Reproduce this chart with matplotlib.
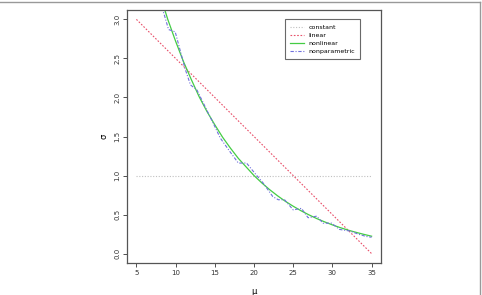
import matplotlib
matplotlib.use("Agg")
import matplotlib.pyplot as plt
from matplotlib.lines import Line2D

# values
mu_const = [5, 35]
sd_const = [1.0, 1.0]

mu_lin = [5, 35]
sd_lin = [3.0, 0.0]

mu_nl = [8.0, 9, 10, 11, 12, 13, 14, 15, 16, 17, 18, 19, 20, 21, 22, 23, 24, 25,
         26, 27, 28, 29, 30, 31, 32, 33, 34, 35]
sd_nl = [3.32, 3.00, 2.72, 2.46, 2.23, 2.01, 1.82, 1.65, 1.49, 1.35, 1.22, 1.11,
         1.00, 0.905, 0.819, 0.741, 0.670, 0.607, 0.549, 0.497, 0.449, 0.407,
         0.368, 0.333, 0.301, 0.273, 0.247, 0.223]

mu_np = [8.0, 9.1, 9.95, 11.2, 11.9, 12.7, 14.8, 15.7, 16.9, 18.0, 19.05, 20.1,
         21.2, 22.4, 23.1, 23.9, 25.0, 26.05, 26.9, 28.0, 28.8, 29.9, 30.9, 32.2,
         33.3, 34.3, 35]
sd_np = [3.25, 2.87, 2.84, 2.37, 2.16, 2.10, 1.67, 1.48, 1.31, 1.16, 1.16, 1.03,
         0.90, 0.73, 0.69, 0.69, 0.56, 0.58, 0.46, 0.48, 0.39, 0.39, 0.31, 0.29,
         0.25, 0.22, 0.21]

labels = ["constant", "linear", "nonlinear", "nonparametric"]
c_const = "#c0c0c0"
c_lin = "#e8506a"
c_nl = "#44cc44"
c_np = "#7070dd"

fig = plt.figure(figsize=(4.82, 2.95), dpi=100)
ax = fig.add_axes([127 / 482, 1 - 263 / 295, 254 / 482, 253 / 295])

ax.plot(mu_const, sd_const, color=c_const, lw=0.8, ls=(0, (1, 1.5)))
ax.plot(mu_lin, sd_lin, color=c_lin, lw=0.8, ls=(0, (1.5, 1.5)))
ax.plot(mu_nl, sd_nl, color=c_nl, lw=0.9, ls="-")
ax.plot(mu_np, sd_np, color=c_np, lw=0.8, ls=(0, (3, 1.5, 1, 1.5)))

ax.set_xlim(3.8, 36.2)
ax.set_ylim(-0.12, 3.12)
ax.set_xticks([5, 10, 15, 20, 25, 30, 35])
ax.set_yticks([0.0, 0.5, 1.0, 1.5, 2.0, 2.5, 3.0])
ax.set_yticklabels(["0.0", "0.5", "1.0", "1.5", "2.0", "2.5", "3.0"], rotation=90, va="center")
ax.tick_params(labelsize=5, length=3, width=0.6, colors="#333333", pad=2)
for s in ax.spines.values():
    s.set_linewidth(0.9)
    s.set_color("#555555")

ax.set_xlabel("μ", fontsize=6, labelpad=8)
ax.set_ylabel("σ", fontsize=6, labelpad=4)

handles = [
    Line2D([], [], color=c_const, lw=0.8, ls=(0, (1, 1.5))),
    Line2D([], [], color=c_lin, lw=0.8, ls=(0, (1.5, 1.5))),
    Line2D([], [], color=c_nl, lw=0.9, ls="-"),
    Line2D([], [], color=c_np, lw=0.8, ls=(0, (3, 1.5, 1, 1.5))),
]
leg = ax.legend(handles, labels, loc="upper left", bbox_to_anchor=(0.622, 0.963),
                fontsize=4.5, frameon=True, fancybox=False, handlelength=2.2,
                handletextpad=0.8, borderpad=0.8, labelspacing=0.45,
                borderaxespad=0)
leg.get_frame().set_edgecolor("#444444")
leg.get_frame().set_linewidth(0.8)

# outer frame of the figure panel
fig.add_artist(Line2D([0, 479.5 / 482], [1 - 2 / 295, 1 - 2 / 295], transform=fig.transFigure,
                      color="#999999", lw=1.0))
fig.add_artist(Line2D([479.5 / 482, 479.5 / 482], [0, 1 - 2 / 295], transform=fig.transFigure,
                      color="#999999", lw=1.0))

fig.savefig("out.png", dpi=100)
